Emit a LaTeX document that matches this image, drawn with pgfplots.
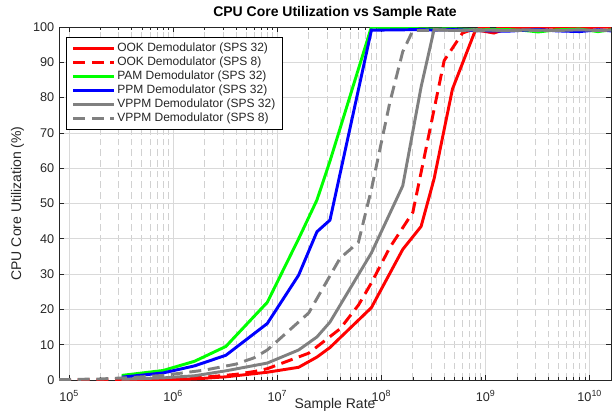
\documentclass[border=0pt]{standalone}
\usepackage{fontspec}
\setmainfont{Liberation Sans}
\usepackage{pgfplots}
\pgfplotsset{compat=1.18}
\definecolor{mred}{rgb}{1,0,0}
\definecolor{mgreen}{rgb}{0,1,0}
\definecolor{mblue}{rgb}{0,0,1}
\definecolor{mgray}{rgb}{0.5,0.5,0.5}
\definecolor{axcol}{rgb}{0.15,0.15,0.15}
\begin{document}
\begin{tikzpicture}
\path[use as bounding box] (-44.25pt,-24pt) rectangle (415.5pt,285pt);
\begin{semilogxaxis}[
    scale only axis,
    width=414pt, height=264.75pt,
    xmin=8e4, xmax=1.6e10,
    ymin=0, ymax=100,
    xtick={1e5,1e6,1e7,1e8,1e9,1e10},
    xticklabels={10\textsuperscript{5},10\textsuperscript{6},10\textsuperscript{7},10\textsuperscript{8},10\textsuperscript{9},10\textsuperscript{10}},
    ytick={0,10,...,100},
    /pgf/number format/assume math mode=true,
    tick align=inside,
    tick pos=both,
    major tick length=3.5pt,
    minor tick length=2pt,
    tick style={axcol, line width=0.5pt},
    axis line style={axcol, line width=0.6pt},
    xmajorgrids=true, ymajorgrids=true, xminorgrids=true,
    major grid style={black!15, line width=0.6pt},
    minor grid style={black!18, line width=0.6pt, dash pattern=on 5pt off 3pt},
    ticklabel style={font=\fontsize{9.5}{11}\selectfont, text=axcol},
    xticklabel style={yshift=-4pt},
    title={CPU Core Utilization vs Sample Rate},
    title style={font=\bfseries\fontsize{10.5}{12}\selectfont, yshift=-4pt},
    xlabel={Sample Rate},
    ylabel={CPU Core Utilization (\%)},
    label style={font=\fontsize{10.5}{12}\selectfont, text=axcol},
    xlabel style={at={(axis description cs:0.5,0)}, anchor=center, yshift=-19pt},
    ylabel style={at={(axis description cs:-0.075,0.5)}, anchor=center},
    legend cell align=left,
    legend image code/.code={\draw[#1] (0pt,0pt) -- (31pt,0pt);},
    legend style={
        at={(axis description cs:0.0127,0.972)}, anchor=north west,
        draw=black, line width=0.5pt, fill=white,
        font=\fontsize{9}{10}\selectfont, text=axcol,
        inner xsep=4pt, inner ysep=3.5pt,
        nodes={inner xsep=1pt, inner ysep=0.5pt, text height=7pt, text depth=2.4pt},
    },
    every axis plot/.append style={line width=2.2pt},
]

% OOK Demodulator (SPS 32)
\addplot[mred, solid] coordinates {
    (3.2e5,0) (8e5,0.1) (1.6e6,0.3) (3.2e6,0.9) (8e6,2.2) (1.6e7,3.6)
    (2.4e7,6.5) (3.2e7,9.2) (8e7,20.5) (1.6e8,37) (2.4e8,43.5) (3.2e8,57)
    (4.8e8,82.4) (8e8,99.2) (1.2e9,98.3) (1.6e9,99.5) (2.4e9,99.8) (3.2e9,100)
    (4.8e9,99.9) (8e9,99.7) (1.2e10,100) (1.6e10,99.9)
};
% OOK Demodulator (SPS 8)
\addplot[mred, dash pattern=on 9pt off 5pt] coordinates {
    (8e4,0) (2e5,0.05) (4e5,0.15) (8e5,0.3) (2e6,0.8) (4e6,1.6) (6e6,2.4)
    (8e6,3.2) (2e7,7.6) (4e7,14.5) (6e7,21.2) (8e7,27.5) (1.2e8,37.5)
    (2e8,47.5) (4e8,90.5) (6e8,98.3) (8e8,99.6) (1.2e9,99.8) (2e9,100)
    (4e9,99.8)
};
% PAM Demodulator (SPS 32)
\addplot[mgreen, solid] coordinates {
    (3.2e5,1.3) (8e5,2.7) (1.6e6,5.3) (3.2e6,9.5) (8e6,22) (1.6e7,40)
    (2.4e7,51) (3.2e7,62) (8e7,100) (1.6e8,99.6) (2.4e8,99.5) (3.2e8,99.4)
    (4.8e8,99.5) (8e8,99.2) (1.6e9,99.3) (2.4e9,99) (3.2e9,98.6) (4.8e9,99.2)
    (8e9,99.4) (1.2e10,98.7) (1.6e10,99.2)
};
% PPM Demodulator (SPS 32)
\addplot[mblue, solid] coordinates {
    (3.2e5,0.8) (8e5,2) (1.6e6,4) (3.2e6,7) (8e6,16) (1.6e7,29.7)
    (2.4e7,42) (3.2e7,45.3) (8e7,99.1) (1.6e8,99.2) (2.4e8,99.3) (3.2e8,99.1)
    (4.8e8,99.3) (8e8,99) (1.6e9,98.8) (2.4e9,99.1) (3.2e9,99.3) (4.8e9,98.9)
    (8e9,98.7) (1.2e10,99.2) (1.6e10,98.9)
};
% VPPM Demodulator (SPS 32)
\addplot[mgray, solid] coordinates {
    (3.2e5,0.2) (8e5,0.6) (1.6e6,1.2) (3.2e6,2.6) (8e6,4.8) (1.6e7,8.5)
    (2.4e7,12.2) (3.2e7,16.4) (8e7,36) (1.6e8,55) (2.4e8,83) (3.2e8,99.3)
    (4.8e8,99) (8e8,99.2) (1.6e9,99) (2.4e9,99.2) (3.2e9,99.1) (4.8e9,99)
    (8e9,99.2) (1.2e10,99) (1.6e10,99.1)
};
% VPPM Demodulator (SPS 8)
\addplot[mgray, dash pattern=on 9pt off 5pt] coordinates {
    (8e4,0.1) (2e5,0.3) (4e5,0.7) (8e5,1.3) (2e6,2.8) (4e6,4.5) (6e6,6.3)
    (8e6,8.5) (2e7,19) (4e7,34.5) (6e7,39) (8e7,54) (1.2e8,78.5) (1.6e8,93)
    (2e8,99) (4e8,99.1) (8e8,98.9) (1.2e9,99.1) (2e9,99) (4e9,99.1)
};

\legend{OOK Demodulator (SPS 32), OOK Demodulator (SPS 8),
        PAM Demodulator (SPS 32), PPM Demodulator (SPS 32),
        VPPM Demodulator (SPS 32), VPPM Demodulator (SPS 8)}
\end{semilogxaxis}
\end{tikzpicture}
\end{document}
